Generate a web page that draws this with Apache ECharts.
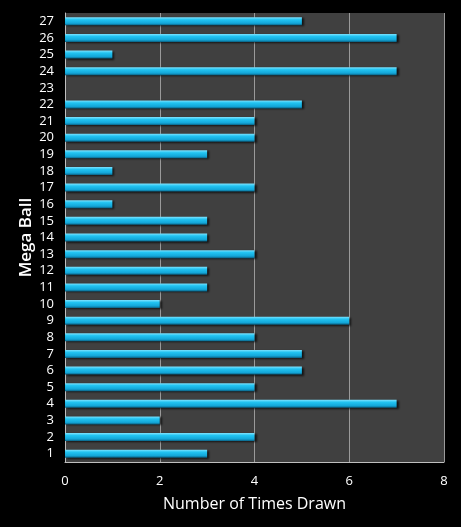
<!DOCTYPE html>
<html>
<head>
<meta charset="utf-8">
<script src="https://cdn.jsdelivr.net/npm/echarts@6/dist/echarts.min.js"></script>
<style>
  html, body { margin: 0; padding: 0; background: #000; }
  #chart { width: 461px; height: 527px; }
</style>
</head>
<body>
<div id="chart"></div>
<script>
// Mega Ball numbers, bottom to top
const balls = ['1','2','3','4','5','6','7','8','9','10','11','12','13','14','15','16','17','18','19','20','21','22','23','24','25','26','27'];
const timesDrawn = [3,4,2,7,4,5,5,4,6,2,3,3,4,3,3,1,4,1,3,4,4,5,0,7,1,7,5];
const xTicks = [0, 2, 4, 6, 8];

const chart = echarts.init(document.getElementById('chart'));

const option = {
    backgroundColor: '#000',
    animation: false,
    grid: {
        left: 65,
        right: 17,
        top: 13,
        bottom: 65,
        show: true,
        backgroundColor: '#404040',
        borderWidth: 0
    },
    xAxis: {
        type: 'value',
        min: xTicks[0],
        max: xTicks[xTicks.length - 1],
        interval: 2,
        name: 'Number of Times Drawn',
        nameLocation: 'middle',
        nameGap: 34,
        nameMoveOverlap: false,
        nameTextStyle: { color: '#fff', fontSize: 16, fontFamily: 'Open Sans' },
        axisLine: { show: true, lineStyle: { color: '#bfbfbf', width: 1 } },
        axisTick: { show: false },
        axisLabel: { color: '#fff', fontSize: 13, margin: 13, fontFamily: 'Open Sans' },
        splitLine: { show: true, lineStyle: { color: '#9a9a9a', width: 1 } }
    },
    yAxis: {
        type: 'category',
        data: balls,
        name: 'Mega Ball',
        nameLocation: 'middle',
        nameGap: 30,
        nameMoveOverlap: false,
        nameRotate: 90,
        nameTextStyle: { color: '#fff', fontSize: 17, fontWeight: 600, fontFamily: 'Open Sans' },
        axisLine: { show: true, lineStyle: { color: '#bfbfbf', width: 1 } },
        axisTick: { show: false },
        axisLabel: { color: '#fff', fontSize: 13, margin: 11, interval: 0, fontFamily: 'Open Sans' },
        splitLine: { show: false }
    },
    series: [
        {
            type: 'bar',
            data: timesDrawn,
            barWidth: 8,
            itemStyle: {
                color: new echarts.graphic.LinearGradient(0, 0, 0, 1, [
                    { offset: 0, color: '#7fe3ff' },
                    { offset: 0.3, color: '#22c4f2' },
                    { offset: 0.75, color: '#13a6d8' },
                    { offset: 1, color: '#0a5f80' }
                ]),
                shadowColor: 'rgba(0,0,0,0.7)',
                shadowBlur: 2,
                shadowOffsetX: 2,
                shadowOffsetY: 1
            }
        }
    ]
};

chart.setOption(option);
</script>
</body>
</html>
